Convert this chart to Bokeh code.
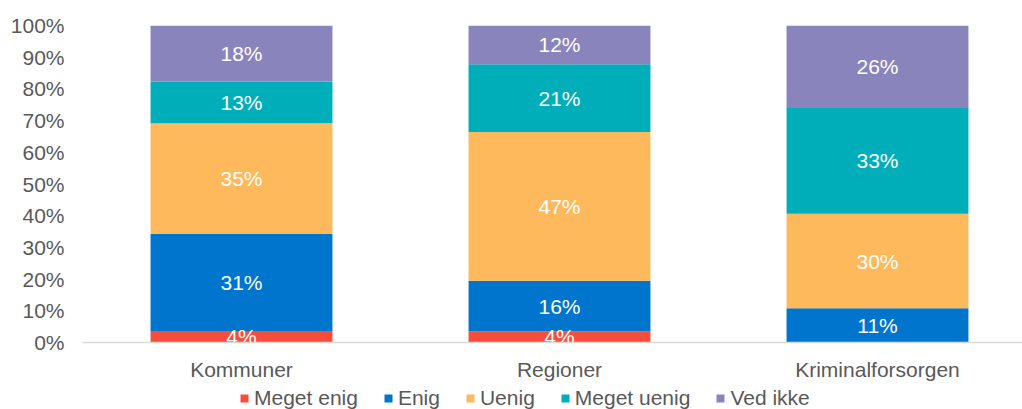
from bokeh.plotting import figure
from bokeh.layouts import column
from bokeh.models import (Range1d, FixedTicker, PrintfTickFormatter, ColumnDataSource,
                          Legend, LegendItem)
from bokeh.core.properties import value
from bokeh.embed import file_html
from bokeh.resources import INLINE

# ---- data (percent shares) ----
categories = ["Kommuner", "Regioner", "Kriminalforsorgen"]
series = ["Meget enig", "Enig", "Uenig", "Meget uenig", "Ved ikke"]
meget_enig = [3.6, 3.5, 0.0]
enig = [30.7, 16.0, 10.8]
uenig = [34.9, 46.9, 29.8]
meget_uenig = [13.1, 21.4, 33.4]
ved_ikke = [17.7, 12.2, 26.0]
colors = ["#F84D3B", "#0075CE", "#FDB95B", "#00AEBA", "#8984BB"]
y_ticks = list(range(0, 101, 10))

FONT = "Liberation Sans"
GREY = "#595959"

values = [meget_enig, enig, uenig, meget_uenig, ved_ikke]
xs = list(range(len(categories)))
data = {"x": xs}
for name, vals in zip(series, values):
    data[name] = vals
source = ColumnDataSource(data)

W = 1022
H_MAIN = 383
H_LEG = 26

p = figure(width=W, height=H_MAIN, output_backend="svg", toolbar_location=None,
           x_range=Range1d(-0.5, 2.456), y_range=Range1d(0, 100),
           min_border_left=82, min_border_right=0, min_border_top=25,
           min_border_bottom=H_MAIN - 343)
p.outline_line_color = None
p.xgrid.visible = False
p.ygrid.visible = False

p.vbar_stack(series, x="x", width=0.572, color=colors, line_color=None, source=source)

# data labels
lx, ly, lt = [], [], []
for i in xs:
    base = 0.0
    for vals in values:
        v = vals[i]
        if v > 0:
            lx.append(i)
            ly.append(base + v / 2)
            lt.append(f"{int(v + 0.5)}%")
        base += v
p.text(x=lx, y=ly, text=lt, text_color="white", text_align="center", text_baseline="middle",
       text_font=value(FONT), text_font_size="21px")

# axes
p.yaxis.ticker = FixedTicker(ticks=y_ticks)
p.yaxis.formatter = PrintfTickFormatter(format="%d%%")
p.yaxis.axis_line_color = None
p.yaxis.major_tick_line_color = None
p.yaxis.minor_tick_line_color = None
p.yaxis.major_tick_out = 0
p.yaxis.major_tick_in = 0
p.yaxis.major_label_standoff = 18
p.yaxis.major_label_text_font = FONT
p.yaxis.major_label_text_font_size = "21px"
p.yaxis.major_label_text_color = GREY

p.xaxis.ticker = FixedTicker(ticks=xs)
p.xaxis.major_label_overrides = {i: c for i, c in zip(xs, categories)}
p.xaxis.axis_line_color = "#D9D9D9"
p.xaxis.axis_line_width = 1.5
p.xaxis.major_tick_line_color = None
p.xaxis.minor_tick_line_color = None
p.xaxis.major_tick_out = 0
p.xaxis.major_tick_in = 0
p.xaxis.major_label_standoff = 15
p.xaxis.major_label_text_font = FONT
p.xaxis.major_label_text_font_size = "21px"
p.xaxis.major_label_text_color = GREY

# legend strip (own small figure; its bars lie outside its view)
lf = figure(width=W, height=H_LEG, output_backend="svg", toolbar_location=None,
            x_range=Range1d(100, 101), y_range=Range1d(1000, 1001),
            min_border_left=0, min_border_right=0, min_border_top=0, min_border_bottom=0)
lf.axis.visible = False
lf.grid.visible = False
lf.outline_line_color = None
leg_renderers = lf.vbar_stack(series, x="x", width=0.572, color=colors, line_color=None,
                              source=source)

legend = Legend(items=[LegendItem(label=s, renderers=[r]) for s, r in zip(series, leg_renderers)],
                orientation="horizontal", location=(157, -1),
                glyph_width=10, glyph_height=10, label_standoff=5, spacing=25,
                padding=0, margin=0, border_line_color=None, background_fill_alpha=0,
                label_text_font=FONT, label_text_font_size="21px", label_text_color=GREY,
                label_height=21)
lf.add_layout(legend)

layout = column(p, lf, spacing=0)
open("out.html", "w").write(file_html(layout, INLINE))
